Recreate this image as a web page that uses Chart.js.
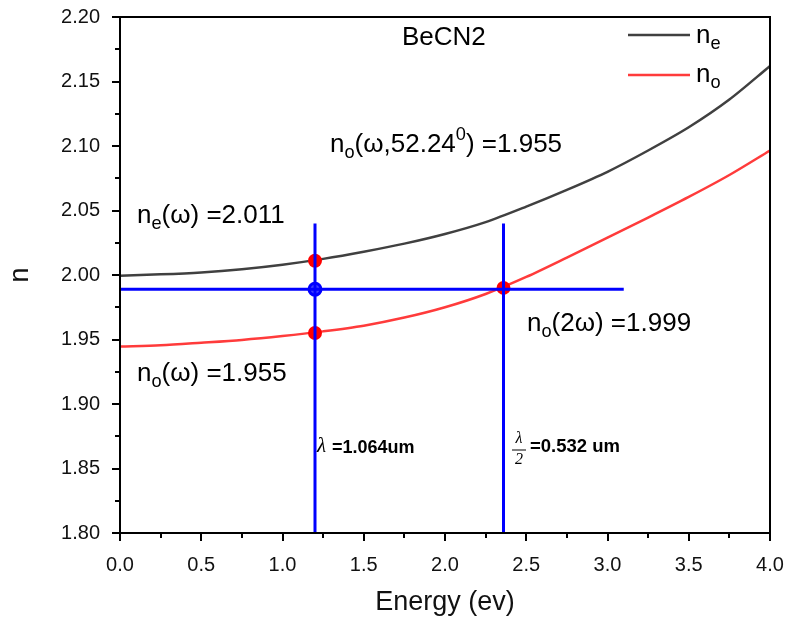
<!DOCTYPE html>
<html>
<head>
<meta charset="utf-8">
<script src="https://cdn.jsdelivr.net/npm/chart.js@4"></script>
<style>
  body { margin: 0; background: #fff; }
</style>
</head>
<body>
<canvas id="c" width="787" height="621"></canvas>
<script>
// energy grid (eV) and refractive indices
const energy = [0, 0.25, 0.5, 0.75, 1.0, 1.25, 1.5, 1.75, 2.0, 2.25, 2.5, 2.75, 3.0, 3.25, 3.5, 3.75, 4.0]
const nE = [1.9995, 2.0005, 2.002, 2.0045, 2.008, 2.0125, 2.018, 2.0243, 2.0318, 2.041, 2.053, 2.066, 2.080, 2.0965, 2.1145, 2.136, 2.162]
const nO = [1.9445, 1.9455, 1.9475, 1.9497, 1.9527, 1.9563, 1.9607, 1.967, 1.975, 1.9853, 1.9985, 2.0135, 2.029, 2.0445, 2.0605, 2.0775, 2.0965]

// marked points
const redPoints = [{ x: 1.2, y: 2.011 }, { x: 1.2, y: 1.955 }, { x: 2.36, y: 1.990 }]
const bluePoint = [{ x: 1.2, y: 1.989 }]

// blue guide lines
const vLine1 = [{ x: 1.2, y: 1.8 }, { x: 1.2, y: 2.04 }]
const vLine2 = [{ x: 2.36, y: 1.8 }, { x: 2.36, y: 2.04 }]
const hLine = [{ x: 0, y: 1.989 }, { x: 3.1, y: 1.989 }]

const xTicks = [0, 0.5, 1.0, 1.5, 2.0, 2.5, 3.0, 3.5, 4.0]
const yTicks = [1.80, 1.85, 1.90, 1.95, 2.00, 2.05, 2.10, 2.15, 2.20]

const FONT = "'Liberation Sans', Arial, sans-serif"

function toXY(xs, ys) {
  return xs.map((x, i) => ({ x: x, y: ys[i] }))
}

// draws text made of parts, some of them sub- or superscript
function drawRich(ctx, parts, x, y, size) {
  ctx.textBaseline = "middle"
  ctx.textAlign = "left"
  let cx = x
  parts.forEach(p => {
    let s = size, dy = 0
    if (p.sub) { s = size * 0.7; dy = size * 0.32 }
    if (p.sup) { s = size * 0.7; dy = -size * 0.38 }
    ctx.font = s + "px " + FONT
    ctx.fillText(p.t, cx, y + dy)
    cx += ctx.measureText(p.t).width
  })
}

const decor = {
  id: "decor",
  afterDraw(chart) {
    const ctx = chart.ctx
    const xs = chart.scales.x, ys = chart.scales.y
    const a = chart.chartArea
    ctx.save()
    ctx.strokeStyle = "#000"
    ctx.lineWidth = 2

    // ticks, major and minor, pointing out
    for (let v = 0; v <= 4.0001; v += 0.25) {
      const px = Math.round(xs.getPixelForValue(v))
      const len = Math.abs(v * 2 - Math.round(v * 2)) < 1e-6 ? 8 : 5
      ctx.beginPath(); ctx.moveTo(px, a.bottom); ctx.lineTo(px, a.bottom + len); ctx.stroke()
    }
    for (let v = 1.8; v <= 2.2001; v += 0.025) {
      const py = Math.round(ys.getPixelForValue(v))
      const len = Math.abs(v * 20 - Math.round(v * 20)) < 1e-6 ? 8 : 5
      ctx.beginPath(); ctx.moveTo(a.left, py); ctx.lineTo(a.left - len, py); ctx.stroke()
    }
    ctx.strokeRect(a.left, a.top, a.right - a.left, a.bottom - a.top)

    // legend
    ctx.lineWidth = 2.5
    ctx.strokeStyle = "#404040"
    ctx.beginPath(); ctx.moveTo(628, 35); ctx.lineTo(690, 35); ctx.stroke()
    ctx.strokeStyle = "#ff3b3b"
    ctx.beginPath(); ctx.moveTo(628, 75); ctx.lineTo(690, 75); ctx.stroke()
    ctx.fillStyle = "#000"
    drawRich(ctx, [{ t: "n" }, { t: "e", sub: true }], 696, 36, 26)
    drawRich(ctx, [{ t: "n" }, { t: "o", sub: true }], 696, 75, 26)

    // labels
    drawRich(ctx, [{ t: "BeCN2" }], 402, 38, 26)
    drawRich(ctx, [{ t: "n" }, { t: "o", sub: true }, { t: "(ω,52.24" }, { t: "0", sup: true }, { t: ") =1.955" }], 330, 145, 26)
    drawRich(ctx, [{ t: "n" }, { t: "e", sub: true }, { t: "(ω) =2.011" }], 137, 216, 26)
    drawRich(ctx, [{ t: "n" }, { t: "o", sub: true }, { t: "(ω) =1.955" }], 137, 374, 26)
    drawRich(ctx, [{ t: "n" }, { t: "o", sub: true }, { t: "(2ω) =1.999" }], 527, 324, 26)

    // wavelength notes
    ctx.textBaseline = "middle"
    ctx.font = "italic 21px 'Liberation Serif', serif"
    ctx.fillText("λ", 317, 446)
    ctx.font = "bold 18px " + FONT
    ctx.fillText("=1.064um", 332, 448)

    ctx.font = "italic 16px 'Liberation Serif', serif"
    ctx.textAlign = "center"
    ctx.fillText("λ", 519, 439)
    ctx.fillText("2", 519, 460)
    ctx.lineWidth = 1
    ctx.strokeStyle = "#000"
    ctx.beginPath(); ctx.moveTo(512, 450); ctx.lineTo(526, 450); ctx.stroke()
    ctx.textAlign = "left"
    ctx.font = "bold 18.5px " + FONT
    ctx.fillText("=0.532 um", 530, 447)
    ctx.restore()
  }
}

new Chart(document.getElementById("c"), {
  type: "scatter",
  data: {
    datasets: [
      { data: vLine1, showLine: true, borderColor: "#0000ff", borderWidth: 3, pointRadius: 0, order: 0 },
      { data: vLine2, showLine: true, borderColor: "#0000ff", borderWidth: 3, pointRadius: 0, order: 0 },
      { data: hLine, showLine: true, borderColor: "#0000ff", borderWidth: 3, pointRadius: 0, order: 0 },
      {
        data: redPoints, pointRadius: 7, pointBackgroundColor: "#ff0000",
        pointBorderColor: "#ff0000", pointBorderWidth: 0, order: 1
      },
      {
        data: bluePoint, pointRadius: 6, pointBackgroundColor: "#4040ff",
        pointBorderColor: "#0000ff", pointBorderWidth: 3, order: 1
      },
      {
        label: "ne", data: toXY(energy, nE), showLine: true, borderColor: "#404040",
        borderWidth: 2.5, pointRadius: 0, tension: 0.3, order: 2
      },
      {
        label: "no", data: toXY(energy, nO), showLine: true, borderColor: "#ff3b3b",
        borderWidth: 2.5, pointRadius: 0, tension: 0.3, order: 2
      }
    ]
  },
  plugins: [decor],
  options: {
    responsive: false,
    animation: false,
    layout: { padding: { top: 17, right: 17, left: 0, bottom: 0 } },
    plugins: { legend: { display: false }, tooltip: { enabled: false } },
    scales: {
      x: {
        type: "linear", min: 0, max: 4,
        afterFit: (s) => { s.height = 88; s.paddingLeft = 0; s.paddingRight = 0 },
        afterBuildTicks: (s) => { s.ticks = xTicks.map(v => ({ value: v })) },
        grid: { display: false, drawTicks: false },
        border: { display: false },
        ticks: {
          padding: 20, color: "#111",
          font: { family: FONT, size: 20 },
          callback: (v) => v.toFixed(1)
        },
        title: { display: true, text: "Energy (ev)", color: "#111", font: { family: FONT, size: 27 }, padding: { top: 4, bottom: 2 } }
      },
      y: {
        type: "linear", min: 1.8, max: 2.2,
        afterFit: (s) => { s.width = 120; s.paddingTop = 0; s.paddingBottom = 0 },
        afterBuildTicks: (s) => { s.ticks = yTicks.map(v => ({ value: v })) },
        grid: { display: false, drawTicks: false },
        border: { display: false },
        ticks: {
          padding: 20, color: "#111",
          font: { family: FONT, size: 20 },
          callback: (v) => v.toFixed(2)
        },
        title: { display: true, text: "n", color: "#111", font: { family: FONT, size: 27 }, padding: { top: 4, bottom: 4 } }
      }
    }
  }
})
</script>
</body>
</html>
